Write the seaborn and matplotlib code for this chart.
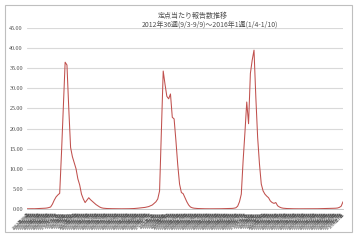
import matplotlib
matplotlib.use("Agg")
import matplotlib.pyplot as plt
import seaborn as sns
import pandas as pd
from matplotlib.patches import Rectangle

# ---- data ----
title_lines = ["定点当たり報告数推移", "2012年36週(9/3-9/9)～2016年1週(1/4-1/10)"]
yticks = [0, 5, 10, 15, 20, 25, 30, 35, 40, 45]

start_year = 2012
start_week = 36
weeks_per_year = {2012: 52, 2013: 52, 2014: 52, 2015: 53, 2016: 1}

values_2012_13 = [0.05, 0.06, 0.05, 0.07, 0.06, 0.08, 0.1, 0.1, 0.12, 0.15, 0.2, 0.25, 0.35,
                  0.5, 1.2, 2.2, 3.0, 3.5, 3.9, 14.0, 25.0, 36.5, 35.8, 25.0, 15.3, 13.0,
                  11.5, 10.0, 7.5, 6.0, 3.7, 2.5, 1.6, 2.2, 2.8, 2.3, 1.9, 1.5, 1.1, 0.8,
                  0.5, 0.3]
values_2013_14 = [0.2, 0.15, 0.12, 0.1, 0.1, 0.08, 0.07, 0.06, 0.05, 0.05, 0.05, 0.05,
                  0.06, 0.06, 0.07, 0.08, 0.1, 0.12, 0.15, 0.2,
                  0.25, 0.3, 0.35, 0.4, 0.5, 0.6, 0.8, 1.0, 1.4, 1.8, 2.5, 4.5, 19.0,
                  34.3, 31.0, 28.0, 27.4, 28.6, 22.8, 22.4, 17.0, 11.0, 6.2, 4.1, 3.8,
                  2.8, 1.8, 1.0, 0.5, 0.3]
values_2014_15 = [0.2, 0.15, 0.12, 0.1, 0.08, 0.07, 0.06, 0.05, 0.05, 0.05, 0.05, 0.05,
                  0.05, 0.06, 0.06, 0.07, 0.08, 0.08, 0.1, 0.1, 0.12, 0.15, 0.2,
                  0.3, 0.7, 1.8, 3.7, 12.0, 19.0, 26.6, 21.2, 33.7, 37.0, 39.5, 27.8,
                  17.8, 11.2, 6.2, 4.5, 3.7, 3.2, 2.8, 2.0, 1.6, 1.4, 1.6, 0.8, 0.5,
                  0.3, 0.2]
values_2015_16 = [0.15, 0.12, 0.1, 0.08, 0.07, 0.06, 0.05, 0.05, 0.05, 0.05, 0.05, 0.05,
                  0.05, 0.05, 0.05, 0.05, 0.06, 0.06, 0.07, 0.08, 0.08, 0.1, 0.1, 0.12,
                  0.12, 0.15, 0.15, 0.18, 0.2, 0.25, 0.4, 0.7, 1.8]

values = values_2012_13 + values_2013_14 + values_2014_15 + values_2015_16

labels = []
y, w = start_year, start_week
while len(labels) < len(values):
    labels.append(f"{y}年{w}週")
    w += 1
    if w > weeks_per_year[y]:
        y += 1
        w = 1

df = pd.DataFrame({"idx": range(len(values)), "value": values, "label": labels})

# ---- plot ----
sns.set_style("white")
plt.rcParams["font.family"] = ["Noto Sans CJK JP", "DejaVu Sans"]

fig = plt.figure(figsize=(3.6, 2.4), dpi=100)
fig.patch.set_facecolor("white")
fig.patches.append(Rectangle((5 / 360, 1 - 232 / 240), 347 / 360, 227 / 240,
                             transform=fig.transFigure, fill=False,
                             edgecolor="#bfbfbf", linewidth=0.8))
ax = fig.add_axes([27 / 360, 1 - 209 / 240, 316 / 360, 181 / 240])

sns.lineplot(data=df, x="idx", y="value", ax=ax, color="#c0504d", linewidth=0.75)

ax.set_xlim(0, len(values) - 1)
ax.set_ylim(0, 45)
ax.set_yticks(yticks)
ax.set_yticklabels([f"{v:.2f}" for v in yticks], fontsize=4.3, color="#404040",
                   family=["Liberation Serif", "DejaVu Serif"])
ax.set_xticks(df["idx"])
ax.set_xticklabels(df["label"], rotation=45, ha="right", rotation_mode="anchor",
                   fontsize=3.0, color="#595959")
ax.tick_params(axis="x", length=1.5, width=0.3, color="#a6a6a6", pad=1)
ax.tick_params(axis="y", length=0, pad=3)
ax.grid(axis="y", color="#d9d9d9", linewidth=0.8)
ax.set_axisbelow(True)
for s in ["top", "right", "left"]:
    ax.spines[s].set_visible(False)
ax.spines["bottom"].set_color("#bfbfbf")
ax.spines["bottom"].set_linewidth(0.6)
ax.set_xlabel("")
ax.set_ylabel("")

fig.text(193 / 360, 1 - 16 / 240, title_lines[0], ha="center", va="center",
         fontsize=5, color="#505050")
fig.text(210 / 360, 1 - 25 / 240, title_lines[1], ha="center", va="center",
         fontsize=5, color="#505050")

fig.savefig("out.png", dpi=100, facecolor="white")
